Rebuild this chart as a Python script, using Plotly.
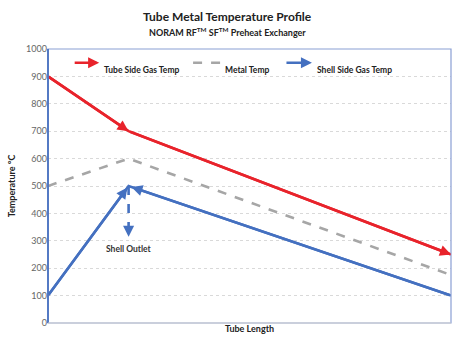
import plotly.graph_objects as go

# Data
tube_x = [0, 2, 10]
tube_side_gas = [900, 700, 250]
metal_temp = [500, 600, 175]
shell_x = [0, 2, 10]
shell_side_gas = [100, 500, 100]
shell_outlet_x = [2, 2]
shell_outlet_y = [500, 315]
y_ticks = [0, 100, 200, 300, 400, 500, 600, 700, 800, 900, 1000]

RED = "#E8232B"
BLUE = "#4470C0"
GRAY = "#A6A6A6"
FONT = "Lato"
HS = 0.85  # arrow head size

fig = go.Figure()
fig.add_trace(go.Scatter(x=tube_x, y=tube_side_gas, mode="lines",
                         line=dict(color=RED, width=2.6), name="Tube Side Gas Temp"))
fig.add_trace(go.Scatter(x=tube_x, y=metal_temp, mode="lines",
                         line=dict(color=GRAY, width=2.6, dash="dash"), name="Metal Temp"))
fig.add_trace(go.Scatter(x=shell_x, y=shell_side_gas, mode="lines",
                         line=dict(color=BLUE, width=2.6), name="Shell Side Gas Temp"))
fig.add_trace(go.Scatter(x=shell_outlet_x, y=shell_outlet_y, mode="lines",
                         line=dict(color=BLUE, width=2.6, dash="dash"), showlegend=False))

ann = []
def seg_arrow(x0, y0, x1, y1, color, standoff=0):
    ann.append(dict(x=x1, y=y1, ax=x0, ay=y0, xref="x", yref="y", axref="x", ayref="y",
                    showarrow=True, arrowhead=2, arrowsize=HS, arrowwidth=2.6,
                    arrowcolor=color, standoff=standoff, text=""))

seg_arrow(tube_x[0], tube_side_gas[0], tube_x[1], tube_side_gas[1], RED)
seg_arrow(tube_x[1], tube_side_gas[1], tube_x[2], tube_side_gas[2], RED)
seg_arrow(shell_x[0], shell_side_gas[0], shell_x[1], shell_side_gas[1], BLUE, standoff=2)
seg_arrow(shell_x[2], shell_side_gas[2], shell_x[1], shell_side_gas[1], BLUE, standoff=3)
# dashed outlet arrow head
ann.append(dict(x=shell_outlet_x[1], y=shell_outlet_y[1], ax=0, ay=-12, xref="x", yref="y",
                showarrow=True, arrowhead=2, arrowsize=HS, arrowwidth=2.6, arrowcolor=BLUE, text=""))
ann.append(dict(x=shell_outlet_x[1], y=270, xref="x", yref="y", text="<b>Shell Outlet</b>",
                showarrow=False, font=dict(family=FONT, size=8.5, color="#333333")))

# custom legend
ly = 0.95
ann.append(dict(x=0.127, y=ly, xref="paper", yref="paper", ax=-26, ay=0, showarrow=True,
                arrowhead=2, arrowsize=HS, arrowwidth=2.6, arrowcolor=RED, text=""))
ann.append(dict(x=0.135, y=ly, xref="paper", yref="paper", xanchor="left", showarrow=False,
                text="<b>Tube Side Gas Temp</b>", font=dict(family=FONT, size=8.5, color="#222222")))
ann.append(dict(x=0.435, y=ly, xref="paper", yref="paper", xanchor="left", showarrow=False,
                text="<b>Metal Temp</b>", font=dict(family=FONT, size=8.5, color="#222222")))
ann.append(dict(x=0.655, y=ly, xref="paper", yref="paper", ax=-27, ay=0, showarrow=True,
                arrowhead=2, arrowsize=HS, arrowwidth=2.6, arrowcolor=BLUE, text=""))
ann.append(dict(x=0.662, y=ly, xref="paper", yref="paper", xanchor="left", showarrow=False,
                text="<b>Shell Side Gas Temp</b>", font=dict(family=FONT, size=8.5, color="#222222")))

# titles
ann.append(dict(x=0.445, y=1, xref="paper", yref="paper", yanchor="bottom", yshift=23, showarrow=False,
                text="<b>Tube Metal Temperature Profile</b>", font=dict(family=FONT, size=12, color="#222222")))
ann.append(dict(x=0.445, y=1, xref="paper", yref="paper", yanchor="bottom", yshift=9, showarrow=False,
                text="<b>NORAM RF<sup>TM</sup> SF<sup>TM</sup> Preheat Exchanger</b>",
                font=dict(family=FONT, size=9, color="#222222")))

shapes = [
    dict(type="line", xref="paper", yref="paper", x0=0.36, x1=0.432, y0=ly, y1=ly,
         line=dict(color=GRAY, width=2.6, dash="dash")),
    dict(type="rect", xref="paper", yref="paper", x0=0, x1=1, y0=0, y1=1,
         line=dict(color="#8A9FD4", width=1.2), layer="above"),
    dict(type="line", xref="paper", yref="paper", x0=0, x1=0, y0=0, y1=1,
         line=dict(color="#4A72C0", width=1.8), layer="above"),
    dict(type="line", xref="paper", yref="paper", x0=0, x1=1, y0=0, y1=0,
         line=dict(color="#D0D0D0", width=1.2), layer="above"),
]

fig.update_layout(
    width=457, height=349,
    margin=dict(l=48, r=6, t=49, b=26),
    paper_bgcolor="white", plot_bgcolor="white",
    showlegend=False,
    annotations=ann, shapes=shapes,
    xaxis=dict(range=[0, 10], showticklabels=False, showgrid=False, zeroline=False,
               ticks="", title=dict(text="<b>Tube Length</b>", standoff=2,
                                    font=dict(family=FONT, size=9, color="#222222"))),
    yaxis=dict(range=[0, 1000], tickvals=y_ticks, showgrid=True, gridcolor="#D9D9D9",
               griddash="dot", gridwidth=1, zeroline=False, ticks="",
               tickfont=dict(family=FONT, size=9, color="#666666"),
               title=dict(text="<b>Temperature °C</b>", standoff=8,
                          font=dict(family=FONT, size=9, color="#222222"))),
)

fig.write_html("out.html")
